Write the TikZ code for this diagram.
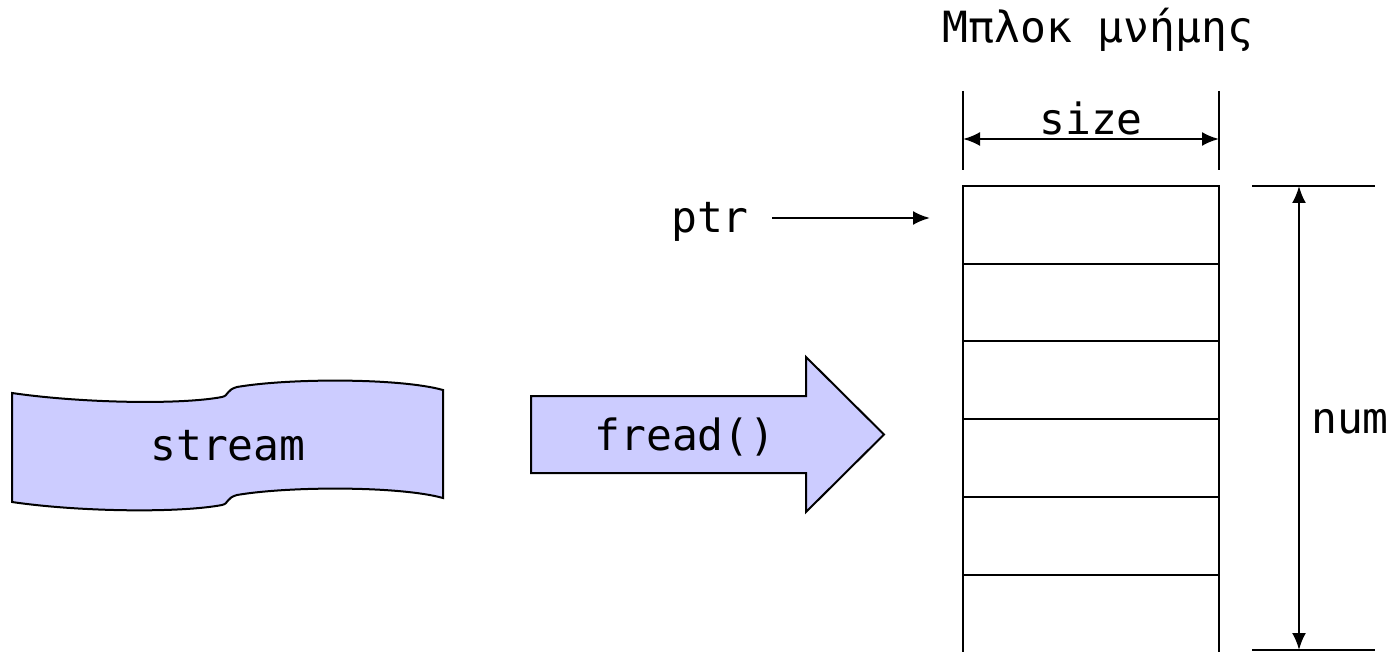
\documentclass[tikz,border=0pt]{standalone}
\usepackage{fontspec}
\setmonofont{DejaVu Sans Mono}
\usetikzlibrary{arrows.meta}
\definecolor{lav}{HTML}{CCCCFF}
\begin{document}
\begin{tikzpicture}[x=1pt,y=-1pt,
  txt/.style={font=\fontsize{43}{50}\selectfont\ttfamily, inner sep=0pt, anchor=base},
  cell/.style={draw=black, line width=2.8pt},
  dimline/.style={draw=black, line width=1.8pt},
  dimarrow/.style={draw=black, line width=2.4pt, {Latex[length=17pt,width=14pt]}-{Latex[length=17pt,width=14pt]}},
  ptrarrow/.style={draw=black, line width=2.4pt, -{Latex[length=17pt,width=14pt]}},
  shapefill/.style={fill=lav, draw=black, line width=2pt, line join=miter}]
\useasboundingbox (0,0) rectangle (1395,652);

% memory block
\node[txt] (title) at (1098,43) {Μπλοκ μνήμης};
\coordinate (mtl) at (963,186);
\coordinate (mtr) at (1219,186);
\draw[cell] (963,670) -- (mtl) -- (mtr) -- (1219,670);
\foreach \yy in {264,341,419,497,575}
  \draw[cell] (963,\yy) -- (1219,\yy);

% size dimension
\coordinate (sza) at (963,91);
\coordinate (szb) at (963,170);
\coordinate (szc) at (1219,91);
\coordinate (szd) at (1219,170);
\draw[dimline] (sza) -- (szb);
\draw[dimline] (szc) -- (szd);
\coordinate (szl) at (963,139);
\coordinate (szr) at (1219,139);
\draw[dimarrow] (szl) -- (szr);
\node[txt] (size) at (1091,135) {size};

% num dimension
\coordinate (nta) at (1252,186);
\coordinate (ntb) at (1375,186);
\coordinate (nba) at (1252,650);
\coordinate (nbb) at (1375,650);
\draw[dimline] (nta) -- (ntb);
\draw[dimline] (nba) -- (nbb);
\coordinate (nt) at (1299,186);
\coordinate (nb) at (1299,650);
\draw[dimarrow] (nt) -- (nb);
\node[txt] (num) at (1350,433) {num};

% ptr
\node[txt] (ptr) at (710,233) {ptr};
\coordinate (ptrs) at (772,218);
\coordinate (ptre) at (930,218);
\draw[ptrarrow] (ptrs) -- (ptre);

% fread arrow
\draw[shapefill] (531,396) -- (806,396) -- (806,357) -- (884,434.5) -- (806,512) -- (806,473) -- (531,473) -- cycle;
\node[txt] (fread) at (685,450) {fread()};

% stream shape
\draw[shapefill] (12,393) .. controls (80,403) and (180,405) .. (222,397)
  .. controls (229,395.5) and (226,390) .. (237,387)
  .. controls (290,378) and (400,378) .. (443,390)
  -- (443,498)
  .. controls (400,486) and (290,486) .. (237,495)
  .. controls (226,498) and (229,503.5) .. (222,505)
  .. controls (180,513) and (80,512) .. (12,502) -- cycle;
\node[txt] (stream) at (228,460) {stream};
\end{tikzpicture}
\end{document}
